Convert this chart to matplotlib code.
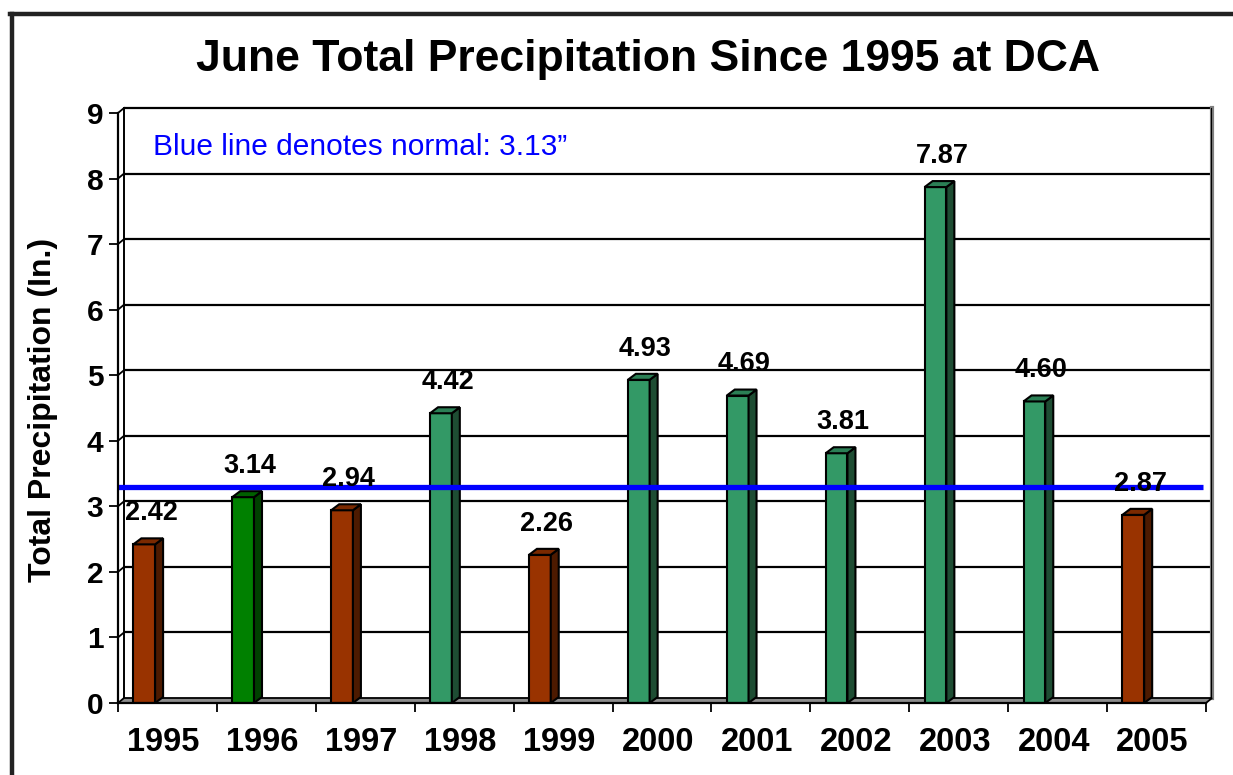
import matplotlib
matplotlib.use('Agg')
import matplotlib.pyplot as plt
from matplotlib.patches import Polygon
from matplotlib.lines import Line2D

# ---- data ----
years = ['1995', '1996', '1997', '1998', '1999', '2000', '2001', '2002', '2003', '2004', '2005']
precip = [2.42, 3.14, 2.94, 4.42, 2.26, 4.93, 4.69, 3.81, 7.87, 4.60, 2.87]
normal = 3.13
yticks = [0, 1, 2, 3, 4, 5, 6, 7, 8, 9]
title = 'June Total Precipitation Since 1995 at DCA'
ylabel = 'Total Precipitation (In.)'
note = 'Blue line denotes normal: 3.13\u201d'

plt.rcParams['font.family'] = ['Liberation Sans', 'DejaVu Sans']

W, H = 1233, 775
fig = plt.figure(figsize=(W / 100, H / 100), dpi=100)
L, R, T, B = 118, 1206, 113, 703
ax = fig.add_axes([L / W, 1 - B / H, (R - L) / W, (B - T) / H])
n = len(years)
ymax = yticks[-1]
ax.set_xlim(0, n)
ax.set_ylim(0, ymax)
pxx = (R - L) / n
pxy = (B - T) / ymax


def dxd(px):
    return px / pxx


def dyd(px):
    return px / pxy


# back-wall offset
bx, by = dxd(6), dyd(5)
# bar depth
ddx, ddy = dxd(8), dyd(6)
bar_left, bar_w = 0.155, 0.22

# gridlines on back wall + left-wall diagonals
for y in yticks[1:]:
    ax.plot([bx, n + bx], [y + by, y + by], color='black', lw=1.6, zorder=1, clip_on=False,
            solid_capstyle='butt')
    ax.plot([0, bx], [y, y + by], color='black', lw=1.3, zorder=1, clip_on=False)
# left wall back vertical
ax.plot([bx, bx], [by, ymax + by], color='black', lw=1.4, zorder=1, clip_on=False)
# right wall
ax.plot([n + bx, n + bx], [by, ymax + by], color='#7f7f7f', lw=3.0, zorder=1, clip_on=False)
ax.plot([n + bx - dxd(1.5), n + bx - dxd(1.5)], [by, ymax + by], color='black', lw=0.8, zorder=1,
        clip_on=False)
# floor
floor = Polygon([(0, 0), (n, 0), (n + bx, by), (bx, by)], closed=True, facecolor='#8c8c8c',
                edgecolor='black', lw=1.3, zorder=2, clip_on=False)
ax.add_patch(floor)


def colors_for(v):
    if abs(v - normal) <= 0.05:
        return '#008000', '#004000', '#006000'
    if v < normal:
        return '#993300', '#4d1a00', '#7a2900'
    return '#339966', '#1e4d33', '#2b7f55'


for i, v in enumerate(precip):
    front, side, top = colors_for(v)
    x0 = i + bar_left
    x1 = x0 + bar_w
    ax.add_patch(Polygon([(x0, 0), (x1, 0), (x1, v), (x0, v)], closed=True, facecolor=front,
                         edgecolor='black', lw=1.5, zorder=3, joinstyle='miter'))
    ax.add_patch(Polygon([(x1, 0), (x1 + ddx, ddy), (x1 + ddx, v + ddy), (x1, v)], closed=True,
                         facecolor=side, edgecolor='black', lw=1.5, zorder=3, joinstyle='miter'))
    ax.add_patch(Polygon([(x0, v), (x1, v), (x1 + ddx, v + ddy), (x0 + ddx, v + ddy)], closed=True,
                         facecolor=top, edgecolor='black', lw=1.5, zorder=3, joinstyle='miter'))
    ax.annotate(f'{v:.2f}', xy=(x0 + (bar_w + ddx) / 2, v), xytext=(2, 22.5), textcoords='offset points',
                ha='center', va='center', fontsize=19.5, fontweight='bold', zorder=5,
                annotation_clip=False)

# normal line
lift = dyd(11)
ax.plot([0, n - dxd(3)], [normal + lift, normal + lift], color='#0000ff', lw=3.8, zorder=4,
        solid_capstyle='butt', clip_on=False)
ax.text(dxd(35), ymax - dyd(34), note, color='#0000ff', fontsize=21.5, ha='left', va='center',
        zorder=5)

# axes / ticks
for s in ['top', 'right']:
    ax.spines[s].set_visible(False)
for s in ['left', 'bottom']:
    ax.spines[s].set_linewidth(1.6)
    ax.spines[s].set_zorder(4)
ax.set_yticks(yticks)
ax.set_yticklabels([str(t) for t in yticks], fontsize=21.5, fontweight='bold')
ax.tick_params(axis='y', length=6.5, width=1.3, pad=4, direction='out')
ax.set_xticks(range(n + 1))
ax.set_xticklabels([])
ax.set_xticks([i + 0.46 for i in range(n)], minor=True)
ax.set_xticklabels(years, minor=True, fontsize=23.5, fontweight='bold')
ax.tick_params(axis='x', which='major', length=6.5, width=1.3, direction='out')
ax.tick_params(axis='x', which='minor', length=0, pad=17)
ax.set_facecolor('none')

fig.text(43 / W, 1 - 410 / H, ylabel, rotation=90, ha='center', va='center', fontsize=23,
         fontweight='bold')
fig.text(648 / W, 1 - 60 / H, title, ha='center', va='center', fontsize=32, fontweight='bold')

# outer frame
fig.add_artist(Line2D([12 / W, 12 / W], [0, 1 - 14 / H], transform=fig.transFigure,
                      color='#222222', lw=3.2))
fig.add_artist(Line2D([10 / W, 1], [1 - 14 / H, 1 - 14 / H], transform=fig.transFigure,
                      color='#222222', lw=3.2))

fig.savefig('out.png', dpi=100)
